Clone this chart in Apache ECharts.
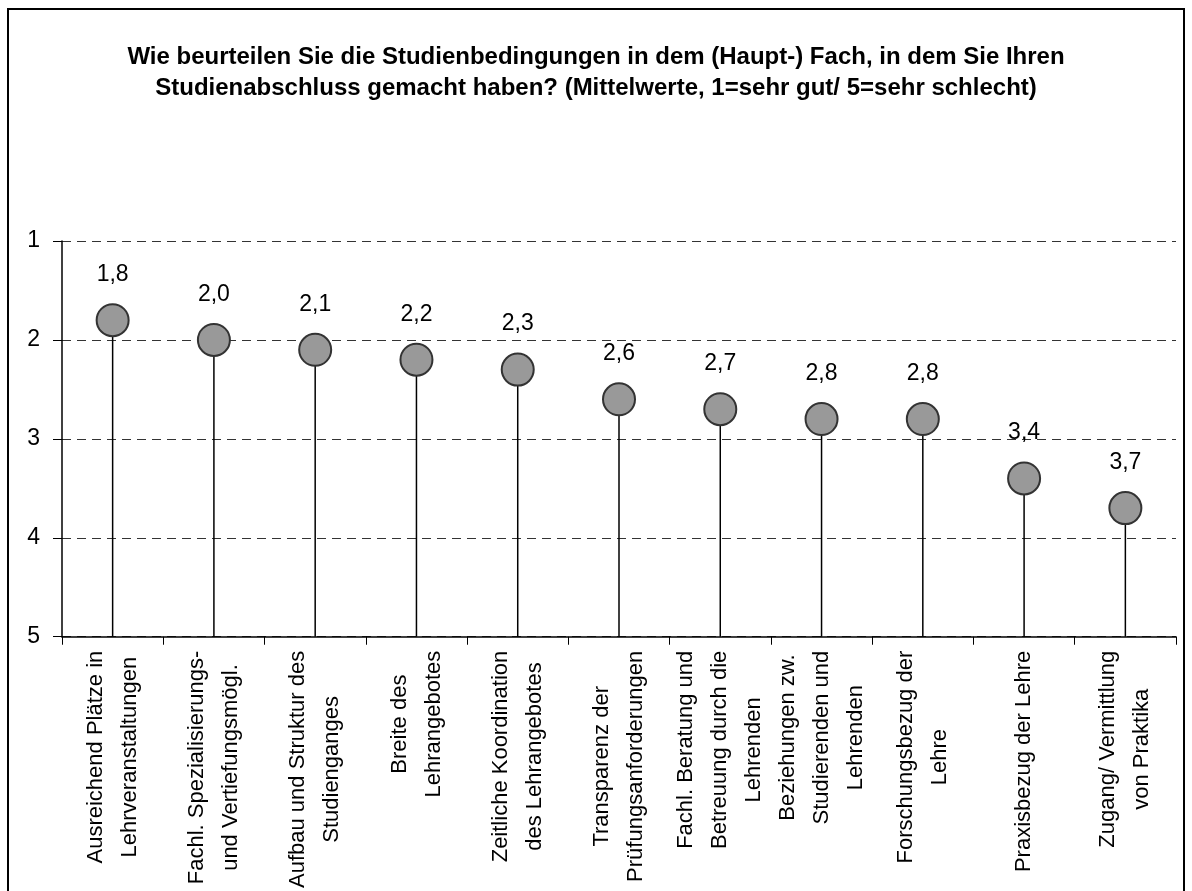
<!DOCTYPE html>
<html>
<head>
<meta charset="utf-8">
<script src="https://cdn.jsdelivr.net/npm/echarts@6/dist/echarts.min.js"></script>
<style>
html,body{margin:0;padding:0;background:#fff;}
#chart{width:1192px;height:891px;}
</style>
</head>
<body>
<div id="chart"></div>
<script>
const titleText = 'Wie beurteilen Sie die Studienbedingungen in dem (Haupt-) Fach, in dem Sie Ihren\nStudienabschluss gemacht haben? (Mittelwerte, 1=sehr gut/ 5=sehr schlecht)';
const categories = [
  'Ausreichend Plätze in\nLehrveranstaltungen',
  'Fachl. Spezialisierungs-\nund Vertiefungsmögl.',
  'Aufbau und Struktur des\nStudienganges',
  'Breite des\nLehrangebotes',
  'Zeitliche Koordination\ndes Lehrangebotes',
  'Transparenz der\nPrüfungsanforderungen',
  'Fachl. Beratung und\nBetreuung durch die\nLehrenden',
  'Beziehungen zw.\nStudierenden und\nLehrenden',
  'Forschungsbezug der\nLehre',
  'Praxisbezug der Lehre',
  'Zugang/ Vermittlung\nvon Praktika'
];
const values = [1.8, 2.0, 2.1, 2.2, 2.3, 2.6, 2.7, 2.8, 2.8, 3.4, 3.7];
const yTicks = [1, 2, 3, 4, 5];

const FONT = '"Liberation Sans", Arial, sans-serif';
const chart = echarts.init(document.getElementById('chart'));

chart.setOption({
  backgroundColor: '#fff',
  animation: false,
  graphic: [{
    type: 'rect',
    shape: { x: 8, y: 9, width: 1176, height: 900 },
    style: { fill: 'none', stroke: '#000', lineWidth: 2 },
    silent: true
  }],
  title: {
    text: titleText,
    left: 'center',
    top: 37,
    textStyle: { fontFamily: FONT, fontSize: 24, fontWeight: 'bold', color: '#000', lineHeight: 31 }
  },
  grid: { left: 62, right: 16, top: 241, bottom: 254, containLabel: false },
  xAxis: {
    type: 'category',
    data: categories,
    boundaryGap: true,
    position: 'bottom',
    axisLine: { onZero: false, lineStyle: { color: '#000', width: 1.5 } },
    axisTick: { show: true, length: 8, alignWithLabel: false, lineStyle: { color: '#000', width: 1 } },
    axisLabel: {
      interval: 0,
      rotate: 90,
      margin: 14,
      fontFamily: FONT,
      fontSize: 22,
      color: '#000',
      formatter: function (v) {
        return v.split('\n').map(function (l) { return '{c|' + l + '}'; }).join('\n');
      },
      rich: {
        c: { align: 'center', fontFamily: FONT, fontSize: 22, color: '#000', lineHeight: 34 }
      }
    }
  },
  yAxis: {
    type: 'value',
    inverse: true,
    min: yTicks[0],
    max: yTicks[yTicks.length - 1],
    interval: 1,
    axisLine: { show: true, lineStyle: { color: '#000', width: 1.5 } },
    axisTick: { show: true, length: 9, lineStyle: { color: '#000', width: 1 } },
    axisLabel: { fontFamily: FONT, fontSize: 23, color: '#000', margin: 22 },
    splitLine: { show: true, lineStyle: { color: '#333', width: 1, type: [9, 6] } }
  },
  series: [
    {
      type: 'custom',
      renderItem: function (params, api) {
        const p0 = api.coord([api.value(0), yTicks[yTicks.length - 1]]);
        const p1 = api.coord([api.value(0), api.value(1)]);
        return {
          type: 'line',
          shape: { x1: p0[0], y1: p0[1], x2: p1[0], y2: p1[1] },
          style: { stroke: '#000', lineWidth: 1.5 }
        };
      },
      data: values.map(function (v, i) { return [i, v]; }),
      z: 2
    },
    {
      type: 'scatter',
      data: values,
      symbol: 'circle',
      symbolSize: 32,
      itemStyle: { color: '#999999', borderColor: '#333', borderWidth: 2, opacity: 1 },
      label: {
        show: true,
        position: 'top',
        distance: 17,
        fontFamily: FONT,
        fontSize: 23,
        color: '#000',
        formatter: function (p) { return p.value.toFixed(1).replace('.', ','); }
      },
      z: 3
    }
  ]
});
</script>
</body>
</html>
